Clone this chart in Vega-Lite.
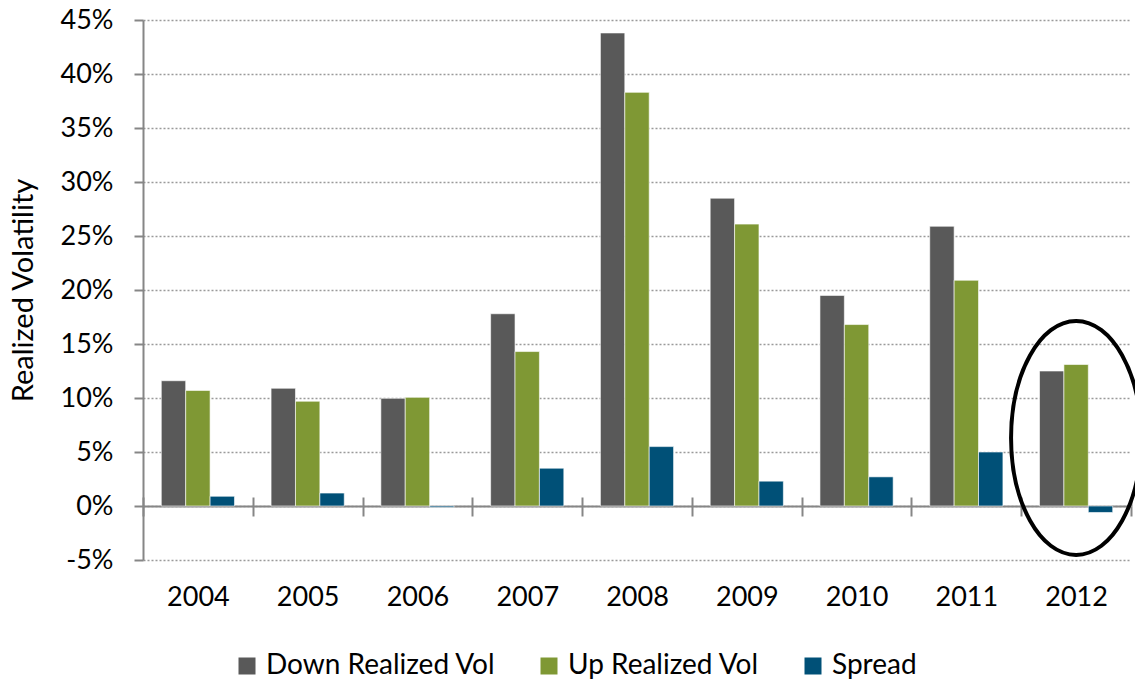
{
  "$schema": "https://vega.github.io/schema/vega-lite/v6.json",
  "width": 988,
  "height": 540,
  "autosize": {"type": "none"},
  "padding": {"left": 143, "top": 20, "right": 4, "bottom": 120},
  "config": {"font": "Lato", "view": {"stroke": null}},
  "datasets": {
    "vol": [
      {"Year": "2004", "series": "Down Realized Vol", "value": 0.116},
      {"Year": "2004", "series": "Up Realized Vol", "value": 0.107},
      {"Year": "2004", "series": "Spread", "value": 0.009},
      {"Year": "2005", "series": "Down Realized Vol", "value": 0.109},
      {"Year": "2005", "series": "Up Realized Vol", "value": 0.097},
      {"Year": "2005", "series": "Spread", "value": 0.012},
      {"Year": "2006", "series": "Down Realized Vol", "value": 0.0997},
      {"Year": "2006", "series": "Up Realized Vol", "value": 0.1006},
      {"Year": "2006", "series": "Spread", "value": -0.0012},
      {"Year": "2007", "series": "Down Realized Vol", "value": 0.178},
      {"Year": "2007", "series": "Up Realized Vol", "value": 0.143},
      {"Year": "2007", "series": "Spread", "value": 0.035},
      {"Year": "2008", "series": "Down Realized Vol", "value": 0.438},
      {"Year": "2008", "series": "Up Realized Vol", "value": 0.383},
      {"Year": "2008", "series": "Spread", "value": 0.055},
      {"Year": "2009", "series": "Down Realized Vol", "value": 0.285},
      {"Year": "2009", "series": "Up Realized Vol", "value": 0.261},
      {"Year": "2009", "series": "Spread", "value": 0.023},
      {"Year": "2010", "series": "Down Realized Vol", "value": 0.195},
      {"Year": "2010", "series": "Up Realized Vol", "value": 0.168},
      {"Year": "2010", "series": "Spread", "value": 0.027},
      {"Year": "2011", "series": "Down Realized Vol", "value": 0.259},
      {"Year": "2011", "series": "Up Realized Vol", "value": 0.209},
      {"Year": "2011", "series": "Spread", "value": 0.05},
      {"Year": "2012", "series": "Down Realized Vol", "value": 0.125},
      {"Year": "2012", "series": "Up Realized Vol", "value": 0.131},
      {"Year": "2012", "series": "Spread", "value": -0.006}
    ],
    "highlight": [
      {"Year": "2012", "value": 0.063}
    ]
  },
  "encoding": {
    "y": {
      "field": "value",
      "type": "quantitative",
      "scale": {"domain": [-0.05, 0.45], "nice": false, "zero": false},
      "axis": {
        "title": "Realized Volatility",
        "titleFontSize": 29,
        "titleFontWeight": "normal",
        "titleColor": "#000000",
        "titlePadding": 22,
        "values": [-0.05, 0, 0.05, 0.1, 0.15, 0.2, 0.25, 0.3, 0.35, 0.4, 0.45],
        "format": ".0%",
        "labelExpr": "replace(datum.label, '\u2212', '-')",
        "labelFontSize": 27,
        "labelColor": "#000000",
        "labelPadding": 21,
        "domainColor": "#868686",
        "domainWidth": 2,
        "tickColor": "#868686",
        "tickWidth": 2,
        "tickSize": 9,
        "grid": true,
        "gridColor": "#9a9a9a",
        "gridDash": [2, 2],
        "gridWidth": 1.3
      }
    }
  },
  "layer": [
    {
      "data": {"name": "vol"},
      "mark": {"type": "bar", "stroke": "#ffffff", "strokeOpacity": 0.6, "strokeWidth": 1},
      "encoding": {
        "x": {
          "field": "Year",
          "type": "nominal",
          "sort": ["2004", "2005", "2006", "2007", "2008", "2009", "2010", "2011", "2012"],
          "scale": {"type": "band", "domain": ["2004", "2005", "2006", "2007", "2008", "2009", "2010", "2011", "2012"], "paddingInner": 0, "paddingOuter": 0},
          "axis": {
            "orient": "bottom",
            "title": null,
            "offset": -54,
            "labelAngle": 0,
            "labelFontSize": 27,
            "labelColor": "#000000",
            "labelPadding": 68,
            "domainColor": "#868686",
            "domainWidth": 2,
            "tickBand": "extent",
            "tickColor": "#868686",
            "tickWidth": 2,
            "tickSize": 10,
            "grid": false
          }
        },
        "xOffset": {
          "field": "series",
          "type": "nominal",
          "sort": ["Down Realized Vol", "Up Realized Vol", "Spread"],
          "scale": {"paddingInner": 0, "paddingOuter": 0.75}
        },
        "color": {
          "field": "series",
          "type": "nominal",
          "scale": {
            "domain": ["Down Realized Vol", "Up Realized Vol", "Spread"],
            "range": ["#595959", "#7f9834", "#005077"]
          },
          "legend": {
            "title": null,
            "orient": "none",
            "direction": "horizontal",
            "legendX": 90,
            "legendY": 632,
            "symbolType": "square",
            "symbolSize": 289,
            "symbolStrokeWidth": 0,
            "labelFontSize": 28,
            "labelLimit": 0,
            "labelColor": "#000000",
            "labelOffset": 5,
            "columnPadding": 39
          }
        }
      }
    },
    {
      "data": {"name": "highlight"},
      "mark": {
        "type": "point",
        "shape": "M 0 -1 C 0.307 -1 0.556 -0.552 0.556 0 C 0.556 0.552 0.307 1 0 1 C -0.307 1 -0.556 0.552 -0.556 0 C -0.556 -0.552 -0.307 -1 0 -1 Z",
        "size": 54756,
        "filled": false,
        "stroke": "#000000",
        "strokeWidth": 4,
        "opacity": 1
      },
      "encoding": {
        "x": {
          "field": "Year",
          "type": "nominal",
          "sort": ["2004", "2005", "2006", "2007", "2008", "2009", "2010", "2011", "2012"],
          "scale": {"type": "band", "domain": ["2004", "2005", "2006", "2007", "2008", "2009", "2010", "2011", "2012"], "paddingInner": 0, "paddingOuter": 0},
          "axis": {
            "orient": "bottom",
            "title": null,
            "offset": -63,
            "domain": false,
            "labels": false,
            "tickBand": "extent",
            "tickColor": "#868686",
            "tickWidth": 2,
            "tickSize": 9,
            "grid": false
          }
        }
      }
    }
  ],
  "resolve": {"axis": {"x": "independent"}}
}
